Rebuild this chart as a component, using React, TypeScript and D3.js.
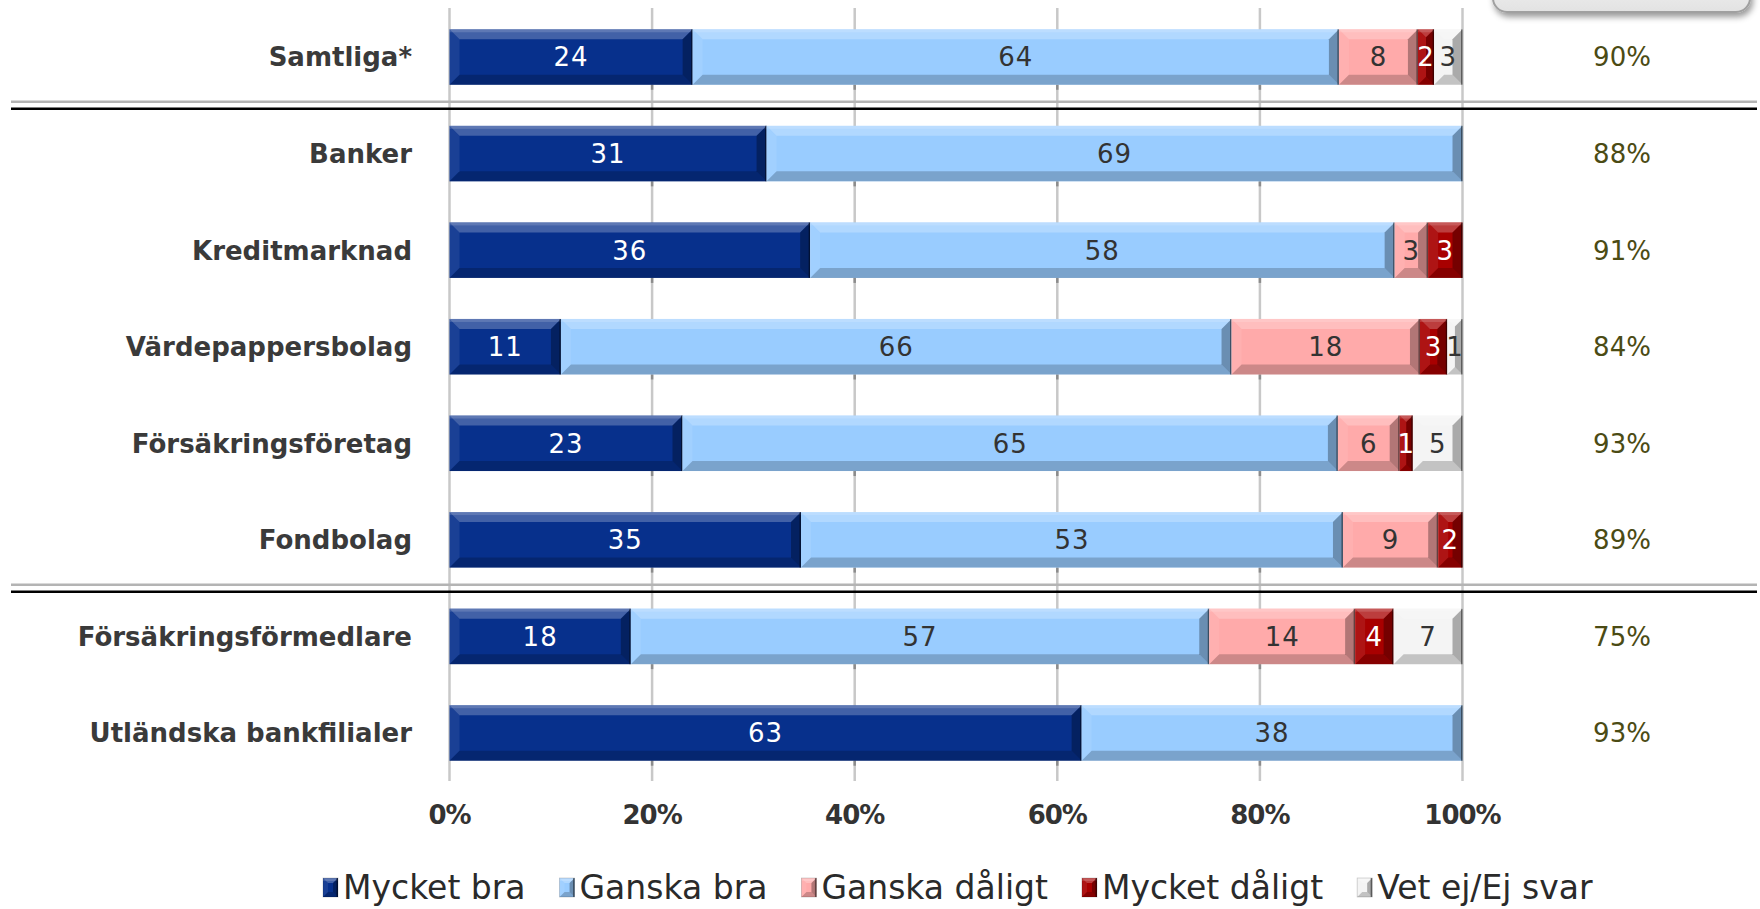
import React from 'react';
import * as d3 from 'd3';

const categories = [
  'Samtliga*',
  'Banker',
  'Kreditmarknad',
  'Värdepappersbolag',
  'Försäkringsföretag',
  'Fondbolag',
  'Försäkringsförmedlare',
  'Utländska bankfilialer',
];

const seriesNames = ['Mycket bra', 'Ganska bra', 'Ganska dåligt', 'Mycket dåligt', 'Vet ej/Ej svar'];

// shares (percent of row) as drawn
const mycketBra = [24.0, 31.3, 35.6, 11.0, 23.0, 34.7, 17.9, 62.4];
const ganskaBra = [63.8, 68.7, 57.7, 66.2, 64.7, 53.5, 57.1, 37.6];
const ganskaDaligt = [7.8, 0, 3.3, 18.6, 6.1, 9.4, 14.4, 0];
const mycketDaligt = [1.6, 0, 3.4, 2.7, 1.3, 2.4, 3.8, 0];
const vetEj = [2.8, 0, 0, 1.5, 4.9, 0, 6.8, 0];

// printed data labels
const mycketBraLabels = [24, 31, 36, 11, 23, 35, 18, 63];
const ganskaBraLabels = [64, 69, 58, 66, 65, 53, 57, 38];
const ganskaDaligtLabels = [8, null, 3, 18, 6, 9, 14, null];
const mycketDaligtLabels = [2, null, 3, 3, 1, 2, 4, null];
const vetEjLabels = [3, null, null, 1, 5, null, 7, null];

// right-hand column
const andelNojda = [90, 88, 91, 84, 93, 89, 75, 93];

const xTicks = [0, 20, 40, 60, 80, 100];

const seriesValues = [mycketBra, ganskaBra, ganskaDaligt, mycketDaligt, vetEj];
const seriesLabels = [mycketBraLabels, ganskaBraLabels, ganskaDaligtLabels, mycketDaligtLabels, vetEjLabels];
const seriesColors = ['#07308c', '#99ccff', '#ffaaaa', '#a80000', '#f4f4f4'];
const labelColors = ['#ffffff', '#333333', '#333333', '#ffffff', '#333333'];

const FONT = "'DejaVu Sans', Verdana, sans-serif";

function pts(arr: number[][]) {
  return arr.map((p) => p.join(',')).join(' ');
}

function Bevel({ x0, y0, w, h, b, fill }: { x0: number; y0: number; w: number; h: number; b: number; fill: string }) {
  if (w <= 0) return null;
  const x1 = x0 + w;
  const y1 = y0 + h;
  const bb = Math.min(b, w / 2, h / 2);
  return (
    <g>
      <rect x={x0} y={y0} width={w} height={h} fill={fill} />
      <polygon points={pts([[x0, y0], [x1, y0], [x1 - bb, y0 + bb], [x0 + bb, y0 + bb]])} fill="#fff" fillOpacity={0.24} />
      <rect x={x0} y={y0} width={w} height={Math.min(3, h)} fill="#fff" fillOpacity={0.15} />
      <polygon points={pts([[x0, y1], [x1, y1], [x1 - bb, y1 - bb], [x0 + bb, y1 - bb]])} fill="#000" fillOpacity={0.2} />
      <polygon points={pts([[x0, y0], [x0 + bb, y0 + bb], [x0 + bb, y1 - bb], [x0, y1]])} fill="#fff" fillOpacity={0.08} />
      <polygon points={pts([[x1, y0], [x1 - bb, y0 + bb], [x1 - bb, y1 - bb], [x1, y1]])} fill="#000" fillOpacity={0.3} />
      <line x1={x1 - 0.75} x2={x1 - 0.75} y1={y0} y2={y1} stroke="#000" strokeOpacity={0.45} strokeWidth={1.5} />
    </g>
  );
}

function measure(text: string, font: string) {
  if (typeof document === 'undefined') return text.length * 18;
  const c = document.createElement('canvas');
  const ctx = c.getContext('2d');
  if (!ctx) return text.length * 18;
  ctx.font = font;
  return ctx.measureText(text).width;
}

export default function App() {
  const W = 1760;
  const H = 909;

  const x = d3.scaleLinear().domain([0, 100]).range([449.5, 1462.5]);
  const y = d3
    .scaleBand<string>()
    .domain(categories)
    .range([8.75, 781.25])
    .paddingInner(0.425)
    .paddingOuter(0.2125);
  const bw = y.bandwidth();

  // stacked layout
  const rows = categories.map((c, i) => {
    const obj: any = { cat: c };
    seriesNames.forEach((s, k) => (obj[s] = seriesValues[k][i]));
    return obj;
  });
  const stack = d3.stack<any>().keys(seriesNames)(rows);

  const gridTop = 8;
  const gridBottom = 781;

  const separatorsAfter = [0, 5];

  // legend layout
  const legendFontSize = 33;
  const legendFont = `${legendFontSize}px ${FONT}`;
  let lx = 323;
  const legendItems = seriesNames.map((n, k) => {
    const tw = measure(n, legendFont);
    const item = { name: n, x: lx, color: seriesColors[k] };
    lx += 20 + tw + 34;
    return item;
  });

  return (
    <svg
      width={W}
      height={H}
      style={{ position: 'absolute', left: 0, top: 0, background: '#fff' }}
      fontFamily={FONT}
    >
      <defs>
        <linearGradient id="boxGrad" x1="0" y1="0" x2="0" y2="1">
          <stop offset="0" stopColor="#ffffff" />
          <stop offset="1" stopColor="#e2e2e2" />
        </linearGradient>
        <filter id="boxShadow" x="-10%" y="-50%" width="120%" height="200%">
          <feDropShadow dx="2" dy="4" stdDeviation="3" floodColor="#000" floodOpacity="0.4" />
        </filter>
      </defs>

      {/* top-right box (cut off) */}
      <rect x={1493} y={-50} width={257} height={62} rx={14} fill="url(#boxGrad)" stroke="#a0a0a0" strokeWidth={2} filter="url(#boxShadow)" />

      {/* gridlines */}
      {xTicks.map((t) => (
        <line key={t} x1={x(t)} x2={x(t)} y1={gridTop} y2={gridBottom} stroke="#c8c8c8" strokeWidth={2.5} />
      ))}

      {/* shadow marks under bars */}
      {categories.map((c) =>
        xTicks.slice(1, -1).map((t) => (
          <line
            key={c + t}
            x1={x(t)}
            x2={x(t)}
            y1={(y(c) as number) + bw}
            y2={(y(c) as number) + bw + 5}
            stroke="#8c8c8c"
            strokeWidth={2.5}
          />
        ))
      )}

      {/* separators */}
      {separatorsAfter.map((i) => {
        const mid = ((y(categories[i]) as number) + bw + (y(categories[i + 1]) as number)) / 2;
        return (
          <g key={'sep' + i}>
            <line x1={11} x2={1757} y1={mid - 3.5} y2={mid - 3.5} stroke="#b4b4b4" strokeWidth={2.5} />
            <line x1={11} x2={1757} y1={mid + 3.5} y2={mid + 3.5} stroke="#000" strokeWidth={2.5} />
          </g>
        );
      })}

      {/* bars */}
      {stack.map((layer, k) =>
        layer.map((d, i) => {
          const x0 = x(d[0]);
          const x1 = x(d[1]);
          const yy = y(categories[i]) as number;
          return (
            <Bevel key={k + '-' + i} x0={x0} y0={yy} w={x1 - x0} h={bw} b={10} fill={seriesColors[k]} />
          );
        })
      )}

      {/* data labels */}
      {stack.map((layer, k) =>
        layer.map((d, i) => {
          const lab = seriesLabels[k][i];
          if (lab === null || d[1] - d[0] <= 0) return null;
          const cx = (x(d[0]) + x(d[1])) / 2;
          const cy = (y(categories[i]) as number) + bw / 2;
          return (
            <text
              key={'l' + k + '-' + i}
              x={cx}
              y={cy}
              dy="0.36em"
              textAnchor="middle"
              fontSize={26}
              fill={labelColors[k]}
              letterSpacing={1}
            >
              {lab}
            </text>
          );
        })
      )}

      {/* category labels */}
      {categories.map((c) => (
        <text
          key={'c' + c}
          x={412}
          y={(y(c) as number) + bw / 2}
          dy="0.36em"
          textAnchor="end"
          fontSize={26}
          fontWeight="bold"
          fill="#3a3a3a"
        >
          {c}
        </text>
      ))}

      {/* right column */}
      {categories.map((c, i) => (
        <text
          key={'r' + c}
          x={1622}
          y={(y(c) as number) + bw / 2}
          dy="0.36em"
          textAnchor="middle"
          fontSize={26}
          fill="#4b4b14"
        >
          {andelNojda[i] + '%'}
        </text>
      ))}

      {/* x tick labels */}
      {xTicks.map((t) => (
        <text
          key={'t' + t}
          x={x(t)}
          y={815}
          dy="0.36em"
          textAnchor="middle"
          fontSize={26}
          fontWeight="bold"
          fill="#333"
          letterSpacing={-1}
        >
          {t + '%'}
        </text>
      ))}

      {/* legend */}
      {legendItems.map((it) => (
        <g key={'lg' + it.name}>
          <Bevel x0={it.x} y0={878} w={15} h={19} b={5} fill={it.color} />
          <rect x={it.x} y={878} width={15} height={19} fill="none" stroke="#000" strokeOpacity={0.2} strokeWidth={0.8} />
          <text x={it.x + 20} y={887} dy="0.36em" fontSize={legendFontSize} fill="#2a2a2a">
            {it.name}
          </text>
        </g>
      ))}
    </svg>
  );
}
